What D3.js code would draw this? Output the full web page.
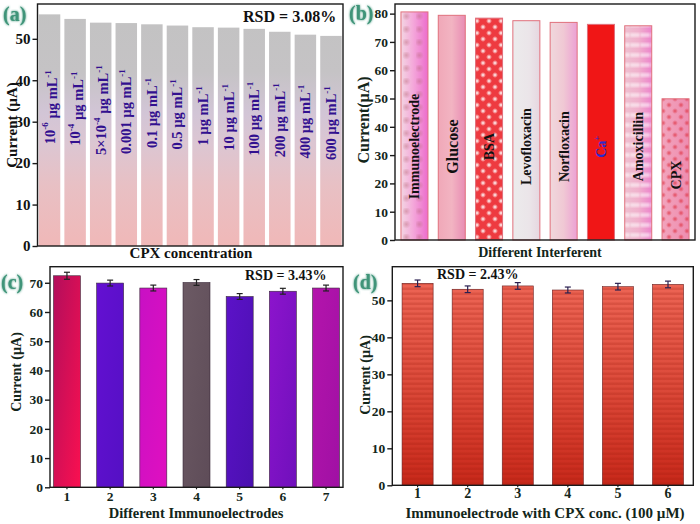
<!DOCTYPE html>
<html>
<head>
<meta charset="utf-8">
<script src="https://cdn.jsdelivr.net/npm/d3@7/dist/d3.min.js"></script>
<style>
  html, body { margin: 0; padding: 0; background: #fff; }
  svg { display: block; }
  text { font-family: "Liberation Serif", "Times New Roman", serif; font-weight: bold; }
</style>
</head>
<body>
<svg id="chart" width="700" height="524"></svg>
<script>
// ---------------- DATA ----------------
const aLabels = ["10^{-6} µg mL^{-1}", "10^{-4} µg mL^{-1}", "5×10^{-4} µg mL^{-1}", "0.001 µg mL^{-1}",
  "0.1 µg mL^{-1}", "0.5 µg mL^{-1}", "1 µg mL^{-1}", "10 µg mL^{-1}", "100 µg mL^{-1}",
  "200 µg mL^{-1}", "400 µg mL^{-1}", "600 µg mL^{-1}"];
const aValues = [55.9, 54.8, 53.9, 53.8, 53.5, 53.2, 52.8, 52.7, 52.4, 51.7, 51.0, 50.7];
const aTicks = [0, 10, 20, 30, 40, 50];

const bLabels = ["Immunoelectrode", "Glucose", "BSA", "Levofloxacin", "Norfloxacin", "Ca^{+}", "Amoxicillin", "CPX"];
const bValues = [80.6, 79.4, 78.4, 77.5, 76.9, 76.2, 75.7, 49.9];
const bTicks = [0, 10, 20, 30, 40, 50, 60, 70, 80];

const cLabels = ["1", "2", "3", "4", "5", "6", "7"];
const cValues = [72.4, 69.9, 68.2, 70.1, 65.3, 67.1, 68.2];
const cErrors = [1.2, 1.0, 1.0, 1.0, 1.0, 1.0, 1.0];
const cTicks = [0, 10, 20, 30, 40, 50, 60, 70];

const dLabels = ["1", "2", "3", "4", "5", "6"];
const dValues = [54.6, 53.0, 53.9, 52.8, 53.7, 54.3];
const dErrors = [0.9, 0.9, 0.9, 0.8, 0.9, 0.9];
const dTicks = [0, 10, 20, 30, 40, 50];

// ---------------- SETUP ----------------
const svg = d3.select("#chart");
const defs = svg.append("defs");

const glow = defs.append("filter").attr("id", "glow").attr("x", "-30%").attr("y", "-30%").attr("width", "160%").attr("height", "160%");
glow.append("feGaussianBlur").attr("in", "SourceGraphic").attr("stdDeviation", 1.3).attr("result", "b");
const gm = glow.append("feMerge");
gm.append("feMergeNode").attr("in", "b");
gm.append("feMergeNode").attr("in", "SourceGraphic");

const soft = defs.append("filter").attr("id", "soft");
soft.append("feGaussianBlur").attr("stdDeviation", 0.9);

function addRich(textSel, str, supSize) {
  const re = /\^\{([^}]*)\}/g;
  let last = 0, m, parts = [];
  while ((m = re.exec(str)) !== null) {
    if (m.index > last) parts.push({t: str.slice(last, m.index), sup: false});
    parts.push({t: m[1], sup: true});
    last = re.lastIndex;
  }
  if (last < str.length) parts.push({t: str.slice(last), sup: false});
  let up = false;
  parts.forEach(p => {
    const ts = textSel.append("tspan").text(p.t);
    if (p.sup && !up) { ts.attr("dy", "-0.45em").attr("font-size", supSize); up = true; }
    else if (!p.sup && up) { ts.attr("dy", "0.45em"); up = false; }
    else if (p.sup) ts.attr("font-size", supSize);
  });
}

function panel(cfg) {
  const g = svg.append("g");
  const x = d3.scaleBand().domain(cfg.labels).range([cfg.x0, cfg.x1])
    .paddingInner(cfg.pi).paddingOuter(cfg.po);
  const y = d3.scaleLinear().domain([0, cfg.ymax]).range([cfg.y1, cfg.y0]);
  const data = cfg.labels.map((l, i) => ({l, v: cfg.values[i], e: cfg.errors ? cfg.errors[i] : null, i}));

  g.selectAll("rect.bar").data(data).join("rect").attr("class", "bar")
    .attr("x", d => x(d.l)).attr("width", x.bandwidth())
    .attr("y", d => y(d.v)).attr("height", d => y(0) - y(d.v))
    .attr("fill", d => cfg.fill(d.i));
  if (cfg.overlay) {
    g.selectAll("rect.ov").data(data).join("rect").attr("class", "ov")
      .attr("x", d => x(d.l)).attr("width", x.bandwidth())
      .attr("y", d => y(d.v)).attr("height", d => y(0) - y(d.v))
      .attr("fill", d => cfg.overlay(d.i)).attr("opacity", d => cfg.overlayOp ? cfg.overlayOp(d.i) : 1);
  }
  if (cfg.stroke) {
    g.selectAll("rect.bo").data(data).join("rect").attr("class", "bo")
      .attr("x", d => x(d.l)).attr("width", x.bandwidth())
      .attr("y", d => y(d.v)).attr("height", d => y(0) - y(d.v))
      .attr("fill", "none").attr("stroke", cfg.stroke).attr("stroke-width", cfg.strokeW || 0.8);
  }

  if (cfg.errors) {
    const eg = g.selectAll("g.err").data(data).join("g").attr("class", "err")
      .attr("stroke", cfg.errColor || "#222").attr("stroke-width", 1.2);
    const cx = d => x(d.l) + x.bandwidth() / 2;
    eg.append("line").attr("x1", cx).attr("x2", cx).attr("y1", d => y(d.v + d.e)).attr("y2", d => y(d.v - d.e));
    eg.append("line").attr("x1", d => cx(d) - 3).attr("x2", d => cx(d) + 3).attr("y1", d => y(d.v + d.e)).attr("y2", d => y(d.v + d.e));
    eg.append("line").attr("x1", d => cx(d) - 3).attr("x2", d => cx(d) + 3).attr("y1", d => y(d.v - d.e)).attr("y2", d => y(d.v - d.e));
  }

  g.append("rect").attr("x", cfg.x0).attr("y", cfg.y0).attr("width", cfg.x1 - cfg.x0).attr("height", cfg.y1 - cfg.y0)
    .attr("fill", "none").attr("stroke", "#1a1a1a").attr("stroke-width", 1.4);

  const ya = g.append("g").attr("transform", `translate(${cfg.x0},0)`)
    .call(d3.axisLeft(y).tickValues(cfg.ticks).tickSize(5).tickPadding(2).tickSizeOuter(0));
  ya.select(".domain").remove();
  ya.selectAll(".tick line").attr("stroke", "#1a1a1a").attr("stroke-width", 1.4);
  ya.selectAll(".tick text").attr("font-family", "Liberation Serif").attr("font-weight", "bold")
    .attr("font-size", cfg.tickFont).attr("fill", cfg.tickColor);

  if (cfg.xTicks) {
    const xa = g.append("g").attr("transform", `translate(0,${cfg.y1})`)
      .call(d3.axisBottom(x).tickSize(2).tickPadding(cfg.xPad).tickSizeOuter(0));
    xa.select(".domain").remove();
    xa.selectAll(".tick line").attr("stroke", "#1a1a1a").attr("stroke-width", 1.2);
    xa.selectAll(".tick text").attr("font-family", "Liberation Serif").attr("font-weight", "bold")
      .attr("font-size", cfg.xTickFont).attr("fill", cfg.tickColor);
  }

  g.append("text").attr("transform", `translate(${cfg.ylx},${cfg.yly}) rotate(-90)`)
    .attr("text-anchor", "middle").attr("dominant-baseline", "central")
    .attr("font-size", cfg.ylFont).attr("fill", cfg.tickColor).text(cfg.ylabel);
  g.append("text").attr("x", cfg.xlx).attr("y", cfg.xly).attr("text-anchor", "middle")
    .attr("font-size", cfg.xlFont).attr("fill", cfg.tickColor).text(cfg.xlabel);

  g.append("text").attr("x", cfg.px).attr("y", cfg.py).attr("font-size", 20).attr("fill", "#3f9479")
    .attr("filter", "url(#glow)").text(cfg.letter);

  if (cfg.rsd) {
    g.append("text").attr("x", cfg.rsd.x).attr("y", cfg.rsd.y).attr("font-size", cfg.rsd.size)
      .attr("fill", "#111").text(cfg.rsd.t);
  }

  if (cfg.barLabels) {
    data.forEach(d => {
      const t = g.append("text")
        .attr("transform", `translate(${x(d.l) + x.bandwidth() / 2},${y(cfg.labelPos(d.v, d.i))}) rotate(-90)`)
        .attr("text-anchor", "middle").attr("dominant-baseline", "central")
        .attr("font-size", cfg.barLabelFont(d.i)).attr("fill", cfg.barLabelColor(d.i));
      addRich(t, d.l, Math.round(cfg.barLabelFont(d.i) * 0.62));
    });
  }
  return {x, y};
}

// ---------- Panel (a) ----------
const gA = defs.append("linearGradient").attr("id", "gA").attr("gradientUnits", "userSpaceOnUse")
  .attr("x1", 0).attr("x2", 0).attr("y1", 4).attr("y2", 246);
[[0, "#c2c2c2"], [0.28, "#c5c3c5"], [0.45, "#d2c5d6"], [0.58, "#dcc6d2"], [0.75, "#e8c0c4"], [1, "#f0b8b8"]]
  .forEach(([o, c]) => gA.append("stop").attr("offset", o).attr("stop-color", c));

panel({
  labels: aLabels, values: aValues, ticks: aTicks, ymax: 58.4,
  x0: 37.5, x1: 343, y0: 4, y1: 246, pi: 0.16, po: 0.05,
  fill: () => "url(#gA)", tickFont: 15, tickColor: "#111",
  ylabel: "Current (µA)", ylx: 12, yly: 125, ylFont: 15,
  xlabel: "CPX concentration", xlx: 191, xly: 258, xlFont: 15,
  letter: "(a)", px: 3, py: 21,
  rsd: {t: "RSD = 3.08%", x: 243, y: 22, size: 16},
  barLabels: true, labelPos: (v, i) => 33.5 - i * 0.35, barLabelFont: () => 14.5, barLabelColor: () => "#32108f"
});

// ---------- Panel (b) ----------
function hGrad(id, stops) {
  const gr = defs.append("linearGradient").attr("id", id).attr("x1", 0).attr("x2", 1).attr("y1", 0).attr("y2", 0);
  stops.forEach(([o, c]) => gr.append("stop").attr("offset", o).attr("stop-color", c));
}
function vGrad(id, stops) {
  const gr = defs.append("linearGradient").attr("id", id).attr("x1", 0).attr("x2", 0).attr("y1", 0).attr("y2", 1);
  stops.forEach(([o, c]) => gr.append("stop").attr("offset", o).attr("stop-color", c));
}
hGrad("b0", [[0, "#f3d6e2"], [0.45, "#f4a8da"], [1, "#ec6ccc"]]);
hGrad("b1", [[0, "#f0a8b8"], [0.5, "#f2b4c2"], [1, "#e88cb4"]]);
hGrad("b3", [[0, "#ecebec"], [0.6, "#ebe5e9"], [1, "#e6d6e0"]]);
hGrad("b4", [[0, "#f0d8dc"], [0.5, "#f0c8d4"], [1, "#eca0d4"]]);
hGrad("b6", [[0, "#eec0d0"], [0.5, "#f0b0cc"], [1, "#ec84cc"]]);
hGrad("b7", [[0, "#f2a4bc"], [1, "#ee8cb0"]]);

function dotPattern(id, w, h, bg, dot, r, offset) {
  const p = defs.append("pattern").attr("id", id).attr("patternUnits", "userSpaceOnUse")
    .attr("width", w).attr("height", h);
  if (bg) p.append("rect").attr("width", w).attr("height", h).attr("fill", bg);
  const rg = defs.append("radialGradient").attr("id", id + "r");
  rg.append("stop").attr("offset", 0).attr("stop-color", dot).attr("stop-opacity", 1);
  rg.append("stop").attr("offset", 1).attr("stop-color", dot).attr("stop-opacity", 0);
  p.append("circle").attr("cx", w / 4).attr("cy", h / 4).attr("r", r).attr("fill", `url(#${id}r)`);
  if (offset) p.append("circle").attr("cx", 3 * w / 4).attr("cy", 3 * h / 4).attr("r", r).attr("fill", `url(#${id}r)`);
}
dotPattern("pBSA", 12, 12, "#ee3a40", "#ffffff", 3.0, true);
dotPattern("pCPX", 12, 12, null, "#e03848", 3.0, true);
dotPattern("pImm", 13, 13, null, "#b86878", 4.5, false);
const pAm = defs.append("pattern").attr("id", "pAm").attr("patternUnits", "userSpaceOnUse").attr("width", 10).attr("height", 10);
pAm.append("rect").attr("y", 3).attr("width", 10).attr("height", 4).attr("fill", "#ffffff").attr("filter", "url(#soft)");

const bFills = ["url(#b0)", "url(#b1)", "url(#pBSA)", "url(#b3)", "url(#b4)", "#f01616", "url(#b6)", "url(#b7)"];
const bOver = ["url(#pImm)", "none", "none", "none", "none", "none", "url(#pAm)", "url(#pCPX)"];
const bOverOp = [0.45, 1, 1, 1, 1, 1, 0.55, 0.8];

panel({
  labels: bLabels, values: bValues, ticks: bTicks, ymax: 83.4,
  x0: 395, x1: 695, y0: 4, y1: 240, pi: 0.276, po: 0.16,
  fill: i => bFills[i], overlay: i => bOver[i], overlayOp: i => bOverOp[i], stroke: "#e0707c", strokeW: 1,
  tickFont: 13.5, tickColor: "#13261a",
  ylabel: "Current(µA)", ylx: 363, yly: 120, ylFont: 16,
  xlabel: "Different Interferent", xlx: 540, xly: 257, xlFont: 14,
  letter: "(b)", px: 349, py: 20,
  barLabels: true, labelPos: v => Math.min(33, v * 0.46),
  barLabelFont: i => i === 1 ? 16 : 14, barLabelColor: i => i === 5 ? "#2a2ad0" : "#111"
});

// ---------- Panel (c) ----------
const cCols = [["#b20e5c", "#fa1050"], ["#6410d2", "#5410c4"], ["#c810c4", "#e010c0"], ["#6c5a64", "#5e4c58"],
  ["#5c12c8", "#4a10b0"], ["#8c14cc", "#7010bc"], ["#b414ac", "#a010a4"]];
cCols.forEach((c, i) => {
  const gr = defs.append("linearGradient").attr("id", "c" + i).attr("x1", 0).attr("x2", 1).attr("y1", 0).attr("y2", 1);
  gr.append("stop").attr("offset", 0).attr("stop-color", c[0]);
  gr.append("stop").attr("offset", 1).attr("stop-color", c[1]);
});
panel({
  labels: cLabels, values: cValues, errors: cErrors, ticks: cTicks, ymax: 75.5,
  x0: 50, x1: 343, y0: 266.7, y1: 487.3, pi: 0.375, po: 0.08,
  fill: i => `url(#c${i})`, stroke: "#3a2a3a", strokeW: 0.6, errColor: "#222",
  tickFont: 13.5, xTickFont: 13.5, tickColor: "#13261a", xTicks: true, xPad: 2,
  ylabel: "Current (µA)", ylx: 16, yly: 372, ylFont: 14,
  xlabel: "Different Immunoelectrodes", xlx: 196, xly: 518, xlFont: 14.5,
  letter: "(c)", px: 1, py: 289,
  rsd: {t: "RSD = 3.43%", x: 245, y: 280, size: 14}
});

// ---------- Panel (d) ----------
vGrad("dG", [[0, "#ec6454"], [0.5, "#dc4a3a"], [1, "#c8281a"]]);
const pD = defs.append("pattern").attr("id", "pD").attr("patternUnits", "userSpaceOnUse").attr("width", 10).attr("height", 5);
pD.append("rect").attr("y", 2.5).attr("width", 10).attr("height", 2.5).attr("fill", "#9a1808").attr("opacity", 0.2);
panel({
  labels: dLabels, values: dValues, errors: dErrors, ticks: dTicks, ymax: 59.1,
  x0: 392.3, x1: 693.3, y0: 266.7, y1: 485.3, pi: 0.38, po: 0.195,
  fill: () => "url(#dG)", overlay: () => "url(#pD)", stroke: "#6a2020", strokeW: 0.6, errColor: "#2a2050",
  tickFont: 13.5, xTickFont: 14, tickColor: "#13261a", xTicks: true, xPad: 1,
  ylabel: "Current (µA)", ylx: 365, yly: 375, ylFont: 14,
  xlabel: "Immunoelectrode with CPX conc. (100 µM)", xlx: 545, xly: 518, xlFont: 15,
  letter: "(d)", px: 353, py: 289,
  rsd: {t: "RSD = 2.43%", x: 437, y: 279, size: 14}
});
</script>
</body>
</html>
